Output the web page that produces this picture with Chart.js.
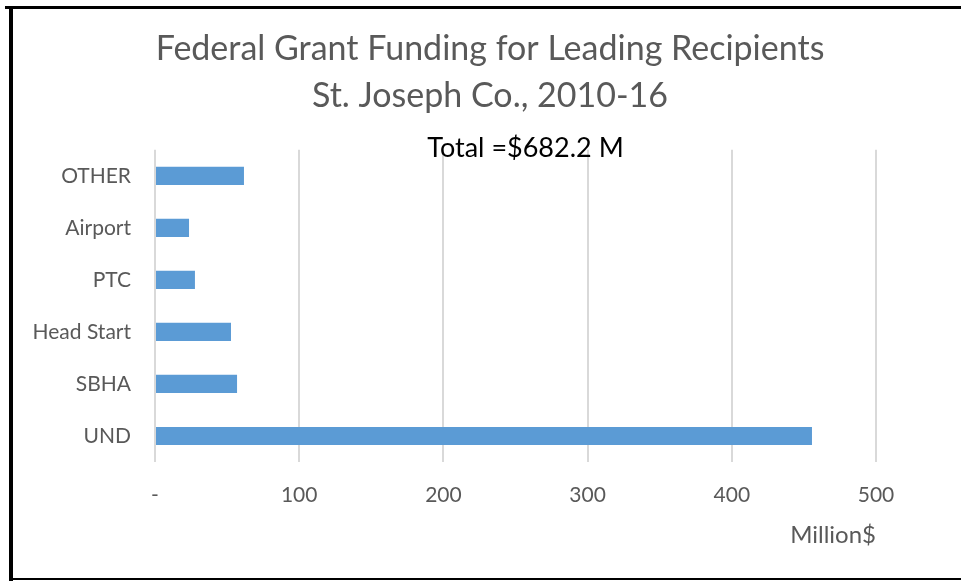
<!DOCTYPE html>
<html>
<head>
<meta charset="utf-8">
<script src="https://cdn.jsdelivr.net/npm/chart.js@4"></script>
<style>
    html, body { margin: 0; padding: 0; background: #fff; }
    #wrap { width: 961px; height: 581px; }
</style>
</head>
<body>
<div id="wrap"><canvas id="grant-chart"></canvas></div>
<script>
// data
const arrLabels = ['OTHER', 'Airport', 'PTC', 'Head Start', 'SBHA', 'UND'];
const arrFunding = [61.7, 23.6, 27.7, 52.7, 56.9, 455.6];
const arrTitle = ['Federal Grant Funding for Leading Recipients', 'St. Joseph Co., 2010-16'];
const totalText = 'Total =$682.2 M';
const axisTitle = 'Million$';

const fontName = 'Lato, "Open Sans", sans-serif';
const greyText = '#595959';

// black frame round the picture + the total text over the plot
const framePlugin = {
    id: 'frame',
    beforeDraw(chart) {
        const c = chart.ctx;
        c.save();
        c.fillStyle = '#fff';
        c.fillRect(0, 0, chart.width, chart.height);
        c.restore();
    },
    afterDraw(chart) {
        const c = chart.ctx;
        const area = chart.chartArea;
        c.save();
        c.fillStyle = '#000';
        c.fillRect(5, 6, chart.width - 5, 3);
        c.fillRect(9, 6, 4, chart.height - 6);
        c.fillRect(9, 578, chart.width - 9, 2);
        c.font = '27px ' + fontName;
        c.fillStyle = '#000';
        c.textAlign = 'center';
        c.textBaseline = 'middle';
        c.fillText(totalText, (area.left + area.right) / 2 + 10, area.top - 2);
        c.restore();
    }
};

const ctx = document.getElementById('grant-chart');
const myChart = new Chart(ctx, {
    type: 'bar',
    data: {
        labels: arrLabels,
        datasets: [{
            label: 'Million$',
            data: arrFunding,
            backgroundColor: '#5B9BD5',
            borderWidth: 0,
            barPercentage: 0.35,
            categoryPercentage: 1
        }]
    },
    options: {
        indexAxis: 'y',
        responsive: true,
        maintainAspectRatio: false,
        animation: false,
        layout: {
            padding: { top: 14, right: 0, bottom: 31, left: 19 }
        },
        plugins: {
            legend: { display: false },
            tooltip: { enabled: false },
            title: {
                display: true,
                text: arrTitle,
                color: greyText,
                font: { family: fontName, size: 34, weight: 'normal', lineHeight: 1.38 },
                padding: { top: 12, bottom: 30 }
            }
        },
        scales: {
            x: {
                min: 0,
                max: 500,
                ticks: {
                    stepSize: 100,
                    color: greyText,
                    padding: 21,
                    font: { family: fontName, size: 21 },
                    callback: function (value) {
                        return value == 0 ? '-' : value;
                    }
                },
                grid: { color: '#D9D9D9', lineWidth: 2, drawTicks: false },
                border: { display: false },
                title: {
                    display: true,
                    text: axisTitle,
                    align: 'end',
                    color: greyText,
                    font: { family: fontName, size: 24 },
                    padding: { top: 10, bottom: 0 }
                },
                afterFit: function (scale) {
                    scale.height = 88;
                }
            },
            y: {
                ticks: {
                    color: greyText,
                    padding: 24,
                    font: { family: fontName, size: 21 }
                },
                grid: { display: false, drawTicks: false },
                border: { display: false },
                afterFit: function (scale) {
                    scale.width = 136;
                }
            },
            // empty axis on the right, only keeps room so the title sits centred like the original
            spacer: {
                type: 'category',
                position: 'right',
                axis: 'y',
                display: true,
                ticks: { display: false },
                grid: { display: false, drawTicks: false },
                border: { display: false },
                afterFit: function (scale) {
                    scale.width = 85;
                }
            }
        }
    },
    plugins: [framePlugin]
});
</script>
</body>
</html>
